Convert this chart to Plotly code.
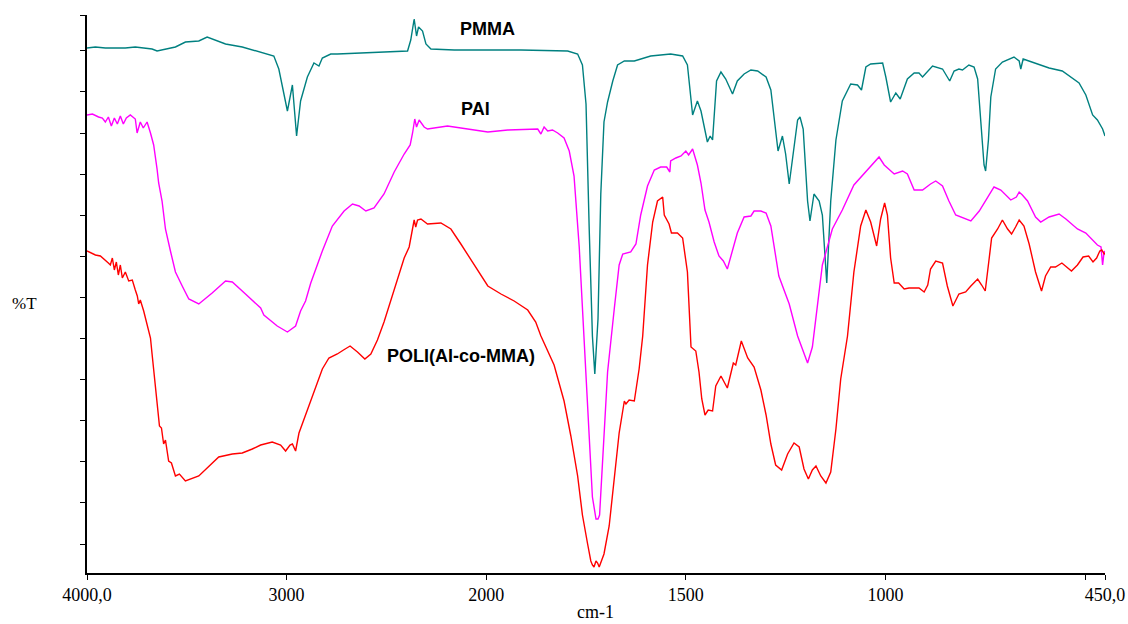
import plotly.graph_objects as go

# ---------------- data (wavenumber in cm-1, transmittance in arbitrary %T units) ----------------
wn_pmma = [4000,3958,3908,3858,3808,3758,3716,3674,3649,3607,
           3557,3507,3440,3398,3306,3222,3130,3064,3039,3021,
           2996,2971,2950,2930,2896,2863,2838,2821,2779,2746,
           2512,2394,2378,2361,2349,2339,2319,2302,2277,2160,
           1996,1913,1796,1771,1759,1750,1742,1734,1728,1720,
           1713,1705,1696,1683,1671,1654,1629,1588,1538,1508,
           1496,1483,1471,1462,1446,1439,1433,1423,1412,1400,
           1383,1371,1354,1337,1320,1299,1287,1279,1269,1258,
           1250,1241,1231,1220,1214,1206,1195,1189,1179,1166,
           1158,1147,1137,1124,1108,1087,1070,1060,1049,1037,
           1007,999,987,974,963,945,928,916,907,882,
           857,839,828,816,807,791,778,769,761,753,
           749,742,736,724,707,678,665,661,655,624,
           590,557,531,515,498,481,469,456,450]
t_pmma = [52.5,52.6,52.5,52.5,52.5,52.6,52.5,52.4,52.2,52.4,
          52.6,53.1,53.2,53.6,52.9,52.6,52.1,51.7,50.4,48.7,
          46.2,48.8,43.7,47.2,49.6,51.0,50.7,51.5,51.9,51.9,
          52.1,52.2,53.3,55.4,53.7,54.6,54.2,52.9,52.4,52.3,
          52.3,52.3,52.2,51.9,50.8,46.9,34.4,23.7,19.9,25.4,
          37.9,45.1,47.1,49.2,50.8,51.2,51.2,51.7,51.9,51.7,
          50.8,45.8,47.2,46.2,43.1,43.7,43.3,49.2,50.1,49.4,
          47.9,49.2,49.9,50.3,50.2,49.6,48.3,45.4,42.2,43.7,
          41.9,38.9,41.9,45.3,45.6,44.4,37.2,35.2,37.9,37.2,
          35.8,29.0,37.2,43.3,47.2,48.9,48.8,48.3,50.6,50.9,
          51.0,49.6,47.1,48.0,47.4,49.4,50.0,50.0,49.6,50.7,
          50.4,49.2,50.2,50.4,50.3,50.8,50.6,49.4,45.1,40.8,
          40.2,43.3,47.6,50.4,51.1,51.6,51.2,50.4,51.4,51.0,
          50.5,50.2,49.4,49.0,47.8,45.8,45.3,44.4,43.7]

wn_pai = [4000,3973,3942,3923,3908,3893,3878,3863,3848,3833,
          3818,3803,3783,3758,3749,3733,3718,3699,3682,3666,
          3649,3641,3624,3607,3582,3557,3523,3490,3440,3373,
          3306,3272,3206,3130,3114,3047,2996,2955,2930,2905,
          2879,2846,2821,2771,2712,2670,2637,2603,2562,2512,
          2461,2411,2381,2369,2358,2349,2336,2311,2294,2194,
          2093,1996,1946,1888,1871,1863,1855,1846,1834,1821,
          1805,1792,1780,1767,1755,1742,1734,1725,1720,1716,
          1709,1696,1679,1667,1658,1650,1638,1625,1613,1596,
          1579,1563,1548,1540,1538,1525,1512,1500,1493,1483,
          1471,1462,1452,1442,1429,1417,1406,1396,1383,1371,
          1354,1337,1329,1312,1299,1287,1267,1241,1220,1195,
          1183,1170,1158,1133,1108,1079,1049,1028,1016,1003,
          978,957,945,928,907,887,874,857,841,824,
          786,765,749,728,711,686,672,665,657,644,
          624,611,590,565,548,519,498,481,469,460,
          456,452,450]
t_pai = [45.8,45.9,45.6,45.5,45.1,45.6,44.7,45.5,44.9,45.7,
         44.9,45.5,45.8,45.4,44.0,45.1,44.5,45.1,44.0,42.8,
         40.4,39.0,37.2,34.4,32.2,30.1,28.7,27.4,26.9,28.0,
         29.2,29.1,27.9,26.5,25.8,24.7,24.1,24.7,26.2,27.2,
         29.0,30.8,32.2,34.7,36.2,36.9,36.7,36.2,36.5,37.9,
         40.1,41.9,42.8,44.0,45.4,44.6,45.3,44.6,44.4,44.7,
         44.4,44.1,44.3,44.4,44.4,43.9,44.6,44.2,44.3,44.0,
         43.5,42.2,39.7,32.6,23.7,14.7,7.6,5.4,5.4,5.8,
         11.2,20.1,26.5,30.8,31.9,32.0,32.1,32.9,35.8,38.7,
         40.3,40.6,40.6,40.1,41.2,41.5,41.7,42.2,41.8,42.4,
         40.8,39.0,36.3,35.1,33.1,31.7,31.2,30.4,32.2,34.0,
         35.6,35.7,36.2,36.2,36.0,34.7,29.7,26.9,23.7,21.0,
         22.6,27.2,30.8,34.4,36.3,38.8,40.1,41.0,41.6,40.8,
         39.9,40.2,39.9,38.3,38.3,38.9,39.2,38.7,37.2,35.8,
         35.2,36.2,37.2,38.6,38.3,37.3,37.6,38.1,37.8,37.2,
         35.6,35.1,35.6,35.9,35.4,34.4,34.0,33.3,32.8,32.6,
         30.8,32.2,31.9]

wn_poli = [4000,3958,3933,3908,3893,3883,3873,3863,3853,3843,
           3833,3823,3808,3791,3773,3758,3748,3741,3733,3716,
           3691,3682,3674,3657,3637,3627,3616,3607,3591,3577,
           3557,3537,3507,3440,3390,3340,3272,3222,3172,3130,
           3072,3030,3005,2983,2971,2955,2938,2913,2879,2846,
           2821,2788,2746,2715,2682,2645,2608,2578,2545,2512,
           2478,2444,2411,2386,2369,2361,2353,2344,2327,2311,
           2294,2227,2177,2127,2060,1996,1963,1930,1896,1876,
           1863,1830,1805,1788,1771,1759,1746,1738,1734,1730,
           1725,1721,1717,1713,1705,1692,1679,1667,1654,1650,
           1642,1629,1617,1608,1596,1583,1571,1558,1554,1542,
           1536,1521,1508,1496,1487,1475,1467,1460,1452,1444,
           1433,1425,1412,1396,1381,1375,1361,1345,1329,1312,
           1299,1287,1275,1260,1245,1229,1216,1204,1193,1183,
           1174,1162,1149,1137,1124,1112,1095,1079,1062,1049,
           1037,1022,1012,1002,995,987,978,967,953,941,
           916,903,894,887,874,857,845,831,816,799,
           786,769,759,750,740,734,719,707,694,684,
           674,665,653,640,624,609,599,586,574,558,
           534,519,505,491,480,471,463,458,452,450]
t_poli = [32.2,31.8,31.7,31.3,31.0,30.8,31.5,30.3,31.1,29.8,
          30.8,29.5,30.1,29.2,29.3,28.3,27.7,26.9,27.3,26.2,
          24.2,23.5,21.9,18.3,14.7,14.5,12.9,13.3,11.2,11.0,
          9.7,9.9,9.2,9.7,10.6,11.6,11.9,12.0,12.4,12.8,
          13.1,12.8,12.2,12.8,12.9,12.2,14.0,15.4,17.2,19.0,
          20.4,21.5,21.9,22.3,22.7,22.1,21.4,21.9,23.3,25.1,
          27.2,29.4,31.5,32.6,34.4,35.3,34.6,35.3,35.4,35.2,
          34.9,35.0,34.4,32.9,30.8,28.7,27.9,27.2,26.3,25.1,
          23.7,20.8,17.2,13.7,9.7,5.8,2.9,1.2,0.8,0.6,
          1.2,1.0,0.6,1.0,1.9,4.7,9.4,14.0,17.2,16.9,
          17.3,17.2,20.4,23.7,30.8,35.1,37.2,37.6,35.8,34.9,
          34.0,34.0,33.5,30.1,22.6,22.2,20.1,17.4,15.8,16.3,
          16.2,18.7,19.7,18.5,21.0,20.8,23.2,21.5,20.6,18.3,
          15.8,12.9,10.8,10.3,11.9,13.0,12.6,10.4,9.4,10.3,
          10.7,9.7,9.0,10.1,14.4,19.4,23.7,30.1,34.7,36.3,
          35.1,32.7,35.4,37.0,35.8,31.5,29.0,29.0,28.4,28.5,
          28.5,28.1,28.8,30.4,31.2,31.0,28.7,26.7,27.9,28.1,
          28.7,29.4,28.8,28.2,31.5,33.5,34.4,35.3,34.4,33.9,
          34.6,35.3,34.7,32.9,30.1,28.2,29.7,30.6,30.6,31.0,
          30.2,30.8,31.6,31.7,31.1,31.5,32.2,32.3,31.9,32.0]

x_tick_wn = [4000, 3000, 2000, 1500, 1000, 500, 450]
x_tick_text = ["4000,0", "3000", "2000", "1500", "1000", "", "450,0"]

series_names = ["PMMA", "PAI", "POLI(AI-co-MMA)"]
label_wn = [1997, 2052, 2126]
label_t = [54.4, 46.4, 21.7]

assert len(wn_pmma) == len(t_pmma)
assert len(wn_pai) == len(t_pai)
assert len(wn_poli) == len(t_poli)


# Instrument-style split wavenumber axis: scale above 2000 cm-1 is half of that below.
def axis_pos(w):
    return 2000 - w if w <= 2000 else -(w - 2000) / 2.0


def to_axis(ws):
    return [axis_pos(w) for w in ws]


SERIF = "Liberation Serif"
SANS = "Liberation Sans"

colors = ["#008080", "#FF00FF", "#FF0000"]
fig = go.Figure()
for wn, tt, col, name in zip([wn_pmma, wn_pai, wn_poli], [t_pmma, t_pai, t_poli], colors, series_names):
    fig.add_trace(go.Scatter(x=to_axis(wn), y=tt, mode="lines", name=name,
                             line=dict(color=col, width=1.4)))

for name, w, t in zip(series_names, label_wn, label_t):
    fig.add_annotation(x=axis_pos(w), y=t, xref="x", yref="y", text="<b>%s</b>" % name,
                       xanchor="center", yanchor="middle",
                       showarrow=False, font=dict(family=SANS, size=18, color="black"))

y_lo, y_hi = 0.0, 55.8
y_ticks = [2.9 + 4.11 * i for i in range(13)] + [y_hi]

W, H = 1128, 624
ml, mr, mt, mb = 87, 23, 15, 51
pw, ph = W - ml - mr, H - mt - mb

fig.add_annotation(x=(24.5 - ml) / pw, y=1 - (303 - mt) / ph, xref="paper", yref="paper",
                   xanchor="center", yanchor="middle",
                   text="%T", showarrow=False, font=dict(family=SERIF, size=17, color="black"))
fig.add_annotation(x=(595 - ml) / pw, y=1 - (612 - mt) / ph, xref="paper", yref="paper", text="cm-1",
                   xanchor="center", yanchor="middle",
                   showarrow=False, font=dict(family=SERIF, size=18, color="black"))

fig.update_layout(
    width=W, height=H,
    margin=dict(l=ml, r=mr, t=mt, b=mb, autoexpand=False),
    paper_bgcolor="white", plot_bgcolor="white",
    showlegend=False,
    font=dict(family=SERIF, size=18, color="black"),
    xaxis=dict(range=[axis_pos(4000), axis_pos(450)], tickvals=to_axis(x_tick_wn), ticktext=x_tick_text,
               showgrid=False, zeroline=False, showline=True, linecolor="black", linewidth=1.5,
               ticks="outside", ticklen=5, tickcolor="black", tickwidth=1,
               ticklabeloverflow="allow", automargin=False,
               tickfont=dict(family=SERIF, size=18, color="black")),
    yaxis=dict(range=[y_lo, y_hi], tickvals=y_ticks, showticklabels=False, automargin=False,
               showgrid=False, zeroline=False, showline=True, linecolor="black", linewidth=1.5,
               ticks="outside", ticklen=5, tickcolor="black", tickwidth=1),
)

# remove the default page margin so the 1128x624 figure fills the window exactly
fig.write_html("out.html", config={"displayModeBar": False},
               post_script="document.body.style.margin='0';document.body.style.overflow='hidden';")
